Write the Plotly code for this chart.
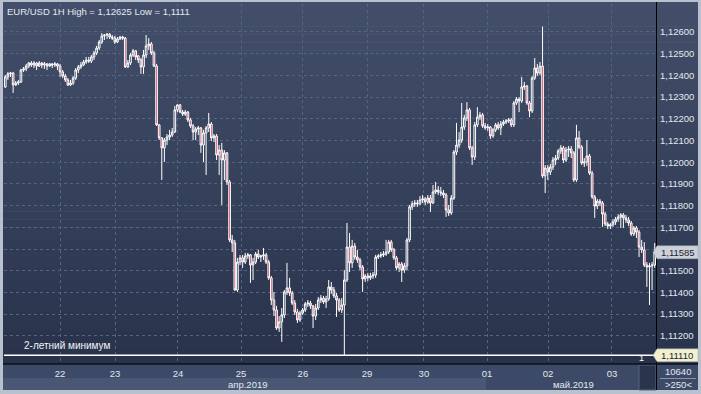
import plotly.graph_objects as go

# ---------------- data (EUR/USD, 1H candles) ----------------
title_text = "EUR/USD 1H High = 1,12625 Low = 1,1111"
day_labels = ["22", "23", "24", "25", "26", "29", "30", "01", "02", "03"]
day_ticks = [21.0, 42.1, 66.2, 90.4, 114.1, 138.7, 160.5, 184.7, 208.1, 232.6]
month_labels = ["апр.2019", "май.2019"]
month_pos = [92.7, 217.7]
price_ticks = [1.112, 1.113, 1.114, 1.115, 1.116, 1.117, 1.118, 1.119,
               1.120, 1.121, 1.122, 1.123, 1.124, 1.125, 1.126]
min_label = "2-летний минимум"
bars_count_text = "10640"
bars_visible_text = ">250<"

open_ = [
    1.12347, 1.12393, 1.12407, 1.12411, 1.12356, 1.12365, 1.12370, 1.12425, 1.12430, 1.12443,
    1.12457, 1.12448, 1.12457, 1.12443, 1.12457, 1.12448, 1.12453, 1.12443, 1.12453, 1.12448,
    1.12453, 1.12443, 1.12416, 1.12397, 1.12379, 1.12356, 1.12365, 1.12388, 1.12425, 1.12439,
    1.12448, 1.12462, 1.12471, 1.12466, 1.12485, 1.12503, 1.12526, 1.12554, 1.12582, 1.12586,
    1.12590, 1.12577, 1.12572, 1.12554, 1.12568, 1.12577, 1.12572, 1.12439, 1.12457, 1.12494,
    1.12513, 1.12490, 1.12471, 1.12439, 1.12494, 1.12536, 1.12545, 1.12503, 1.12443, 1.12172,
    1.12112, 1.12066, 1.12102, 1.12116, 1.12125, 1.12139, 1.12241, 1.12264, 1.12231, 1.12222,
    1.12231, 1.12195, 1.12167, 1.12139, 1.12153, 1.12158, 1.12079, 1.12135, 1.12158, 1.12176,
    1.12112, 1.12121, 1.12033, 1.12056, 1.12010, 1.12043, 1.11909, 1.11642, 1.11628, 1.11411,
    1.11540, 1.11559, 1.11540, 1.11568, 1.11573, 1.11526, 1.11540, 1.11577, 1.11563, 1.11568,
    1.11573, 1.11540, 1.11467, 1.11365, 1.11319, 1.11236, 1.11264, 1.11296, 1.11402, 1.11421,
    1.11397, 1.11351, 1.11310, 1.11273, 1.11305, 1.11319, 1.11347, 1.11351, 1.11338, 1.11291,
    1.11328, 1.11365, 1.11374, 1.11356, 1.11370, 1.11425, 1.11411, 1.11384, 1.11365, 1.11319,
    1.11342, 1.11457, 1.11609, 1.11536, 1.11614, 1.11563, 1.11550, 1.11517, 1.11462, 1.11476,
    1.11467, 1.11476, 1.11480, 1.11563, 1.11568, 1.11573, 1.11577, 1.11586, 1.11632, 1.11596,
    1.11559, 1.11513, 1.11531, 1.11503, 1.11522, 1.11642, 1.11794, 1.11808, 1.11812, 1.11808,
    1.11826, 1.11831, 1.11817, 1.11835, 1.11812, 1.11863, 1.11872, 1.11863, 1.11858, 1.11849,
    1.11780, 1.11766, 1.11835, 1.12047, 1.12079, 1.12102, 1.12162, 1.12204, 1.12241, 1.12066,
    1.12024, 1.12172, 1.12208, 1.12218, 1.12167, 1.12158, 1.12162, 1.12121, 1.12149, 1.12172,
    1.12158, 1.12176, 1.12185, 1.12190, 1.12195, 1.12172, 1.12273, 1.12291, 1.12282, 1.12347,
    1.12351, 1.12273, 1.12236, 1.12388, 1.12434, 1.12411, 1.12443, 1.11937, 1.11973, 1.11955,
    1.11978, 1.12010, 1.12019, 1.12052, 1.12066, 1.12010, 1.12056, 1.12061, 1.12043, 1.11918,
    1.12112, 1.12070, 1.11996, 1.12001, 1.12029, 1.11950, 1.11840, 1.11798, 1.11821, 1.11812,
    1.11761, 1.11715, 1.11706, 1.11711, 1.11725, 1.11738, 1.11748, 1.11757, 1.11743, 1.11734,
    1.11720, 1.11669, 1.11697, 1.11678, 1.11609, 1.11596, 1.11526, 1.11517, 1.11522, 1.11526,
]

high = [
    1.12402, 1.12416, 1.12416, 1.12416, 1.12374, 1.12379, 1.12430, 1.12439, 1.12453, 1.12462,
    1.12466, 1.12466, 1.12462, 1.12466, 1.12462, 1.12462, 1.12457, 1.12457, 1.12457, 1.12462,
    1.12457, 1.12453, 1.12425, 1.12407, 1.12388, 1.12379, 1.12397, 1.12434, 1.12448, 1.12462,
    1.12471, 1.12485, 1.12485, 1.12494, 1.12513, 1.12536, 1.12563, 1.12595, 1.12591, 1.12595,
    1.12595, 1.12586, 1.12582, 1.12577, 1.12582, 1.12582, 1.12577, 1.12471, 1.12503, 1.12522,
    1.12517, 1.12494, 1.12480, 1.12517, 1.12586, 1.12572, 1.12554, 1.12513, 1.12453, 1.12176,
    1.12116, 1.12112, 1.12130, 1.12149, 1.12158, 1.12259, 1.12268, 1.12268, 1.12241, 1.12241,
    1.12236, 1.12204, 1.12176, 1.12162, 1.12167, 1.12162, 1.12149, 1.12167, 1.12227, 1.12185,
    1.12130, 1.12130, 1.12079, 1.12089, 1.12056, 1.12047, 1.11918, 1.11665, 1.11642, 1.11559,
    1.11573, 1.11573, 1.11582, 1.11582, 1.11577, 1.11559, 1.11586, 1.11596, 1.11573, 1.11605,
    1.11582, 1.11550, 1.11476, 1.11402, 1.11338, 1.11291, 1.11328, 1.11411, 1.11536, 1.11467,
    1.11407, 1.11365, 1.11324, 1.11315, 1.11328, 1.11356, 1.11365, 1.11361, 1.11342, 1.11347,
    1.11379, 1.11388, 1.11384, 1.11384, 1.11457, 1.11448, 1.11425, 1.11397, 1.11374, 1.11374,
    1.11503, 1.11720, 1.11674, 1.11642, 1.11628, 1.11596, 1.11559, 1.11526, 1.11485, 1.11490,
    1.11490, 1.11494, 1.11573, 1.11577, 1.11586, 1.11591, 1.11642, 1.11642, 1.11642, 1.11605,
    1.11568, 1.11540, 1.11540, 1.11536, 1.11651, 1.11803, 1.11821, 1.11826, 1.11826, 1.11844,
    1.11849, 1.11840, 1.11849, 1.11849, 1.11895, 1.11909, 1.11890, 1.11886, 1.11872, 1.11858,
    1.11803, 1.11849, 1.12056, 1.12181, 1.12139, 1.12273, 1.12218, 1.12277, 1.12250, 1.12075,
    1.12185, 1.12254, 1.12231, 1.12227, 1.12181, 1.12176, 1.12167, 1.12158, 1.12181, 1.12185,
    1.12190, 1.12195, 1.12199, 1.12204, 1.12204, 1.12282, 1.12300, 1.12300, 1.12393, 1.12370,
    1.12356, 1.12282, 1.12397, 1.12480, 1.12453, 1.12462, 1.12625, 1.11987, 1.11987, 1.11992,
    1.12024, 1.12033, 1.12061, 1.12079, 1.12075, 1.12070, 1.12075, 1.12075, 1.12052, 1.12172,
    1.12144, 1.12079, 1.12019, 1.12102, 1.12038, 1.11960, 1.11849, 1.11831, 1.11831, 1.11821,
    1.11771, 1.11725, 1.11720, 1.11738, 1.11748, 1.11761, 1.11766, 1.11766, 1.11757, 1.11748,
    1.11729, 1.11706, 1.11706, 1.11688, 1.11642, 1.11632, 1.11540, 1.11536, 1.11540, 1.11628,
]

low = [
    1.12342, 1.12379, 1.12393, 1.12319, 1.12351, 1.12356, 1.12365, 1.12416, 1.12420, 1.12434,
    1.12439, 1.12434, 1.12425, 1.12439, 1.12434, 1.12430, 1.12425, 1.12439, 1.12434, 1.12439,
    1.12425, 1.12393, 1.12388, 1.12370, 1.12351, 1.12351, 1.12356, 1.12379, 1.12411, 1.12430,
    1.12443, 1.12453, 1.12457, 1.12457, 1.12471, 1.12494, 1.12517, 1.12545, 1.12563, 1.12568,
    1.12568, 1.12563, 1.12545, 1.12549, 1.12563, 1.12563, 1.12434, 1.12434, 1.12448, 1.12485,
    1.12471, 1.12457, 1.12407, 1.12407, 1.12480, 1.12517, 1.12494, 1.12439, 1.12167, 1.12102,
    1.11918, 1.12001, 1.12079, 1.12102, 1.12116, 1.12135, 1.12231, 1.12227, 1.12213, 1.12213,
    1.12185, 1.12158, 1.12102, 1.12102, 1.12125, 1.12043, 1.12001, 1.11941, 1.12139, 1.12098,
    1.12093, 1.12010, 1.11941, 1.11803, 1.11918, 1.11895, 1.11632, 1.11586, 1.11407, 1.11402,
    1.11526, 1.11513, 1.11531, 1.11554, 1.11444, 1.11457, 1.11531, 1.11554, 1.11540, 1.11550,
    1.11531, 1.11457, 1.11342, 1.11291, 1.11227, 1.11218, 1.11172, 1.11282, 1.11388, 1.11384,
    1.11342, 1.11296, 1.11259, 1.11264, 1.11296, 1.11310, 1.11333, 1.11324, 1.11236, 1.11273,
    1.11319, 1.11351, 1.11347, 1.11328, 1.11361, 1.11393, 1.11374, 1.11287, 1.11310, 1.11305,
    1.11110, 1.11448, 1.11494, 1.11513, 1.11550, 1.11536, 1.11503, 1.11402, 1.11448, 1.11453,
    1.11457, 1.11462, 1.11467, 1.11554, 1.11559, 1.11563, 1.11568, 1.11577, 1.11586, 1.11550,
    1.11503, 1.11494, 1.11448, 1.11490, 1.11503, 1.11632, 1.11780, 1.11794, 1.11794, 1.11803,
    1.11812, 1.11803, 1.11808, 1.11771, 1.11808, 1.11854, 1.11849, 1.11844, 1.11835, 1.11748,
    1.11752, 1.11757, 1.11826, 1.12033, 1.12066, 1.12089, 1.12149, 1.12190, 1.12056, 1.11987,
    1.12010, 1.12162, 1.12195, 1.12158, 1.12149, 1.12144, 1.12107, 1.12112, 1.12139, 1.12149,
    1.12125, 1.12167, 1.12176, 1.12181, 1.12162, 1.12162, 1.12264, 1.12231, 1.12273, 1.12333,
    1.12264, 1.12208, 1.12227, 1.12379, 1.12397, 1.12402, 1.11927, 1.11858, 1.11918, 1.11941,
    1.11964, 1.11987, 1.12010, 1.12038, 1.11996, 1.12001, 1.12024, 1.12019, 1.11909, 1.11909,
    1.12061, 1.11987, 1.11978, 1.11983, 1.11941, 1.11831, 1.11743, 1.11784, 1.11798, 1.11702,
    1.11706, 1.11692, 1.11692, 1.11702, 1.11711, 1.11725, 1.11697, 1.11697, 1.11720, 1.11706,
    1.11660, 1.11660, 1.11651, 1.11563, 1.11582, 1.11517, 1.11425, 1.11342, 1.11411, 1.11513,
]

close = [
    1.12393, 1.12407, 1.12411, 1.12356, 1.12365, 1.12370, 1.12425, 1.12430, 1.12443, 1.12457,
    1.12448, 1.12457, 1.12443, 1.12457, 1.12448, 1.12453, 1.12443, 1.12453, 1.12448, 1.12453,
    1.12443, 1.12416, 1.12397, 1.12379, 1.12356, 1.12365, 1.12388, 1.12425, 1.12439, 1.12448,
    1.12462, 1.12471, 1.12466, 1.12485, 1.12503, 1.12526, 1.12554, 1.12582, 1.12586, 1.12590,
    1.12577, 1.12572, 1.12554, 1.12568, 1.12577, 1.12572, 1.12439, 1.12457, 1.12494, 1.12513,
    1.12485, 1.12471, 1.12439, 1.12494, 1.12536, 1.12545, 1.12503, 1.12443, 1.12172, 1.12112,
    1.12066, 1.12102, 1.12116, 1.12125, 1.12139, 1.12241, 1.12264, 1.12231, 1.12222, 1.12231,
    1.12195, 1.12167, 1.12139, 1.12153, 1.12158, 1.12079, 1.12135, 1.12158, 1.12176, 1.12112,
    1.12121, 1.12033, 1.12056, 1.12010, 1.12043, 1.11909, 1.11642, 1.11628, 1.11411, 1.11540,
    1.11559, 1.11540, 1.11568, 1.11573, 1.11526, 1.11540, 1.11577, 1.11563, 1.11568, 1.11573,
    1.11540, 1.11467, 1.11365, 1.11319, 1.11236, 1.11264, 1.11296, 1.11402, 1.11421, 1.11397,
    1.11351, 1.11310, 1.11273, 1.11305, 1.11319, 1.11347, 1.11351, 1.11338, 1.11291, 1.11328,
    1.11365, 1.11374, 1.11356, 1.11370, 1.11425, 1.11411, 1.11384, 1.11365, 1.11319, 1.11342,
    1.11457, 1.11609, 1.11536, 1.11614, 1.11563, 1.11550, 1.11517, 1.11462, 1.11476, 1.11467,
    1.11476, 1.11480, 1.11563, 1.11568, 1.11573, 1.11577, 1.11586, 1.11632, 1.11596, 1.11559,
    1.11513, 1.11531, 1.11503, 1.11522, 1.11642, 1.11794, 1.11808, 1.11812, 1.11808, 1.11826,
    1.11831, 1.11817, 1.11835, 1.11812, 1.11863, 1.11872, 1.11863, 1.11858, 1.11849, 1.11780,
    1.11766, 1.11835, 1.12047, 1.12079, 1.12102, 1.12162, 1.12204, 1.12241, 1.12066, 1.12024,
    1.12172, 1.12208, 1.12218, 1.12167, 1.12158, 1.12162, 1.12121, 1.12149, 1.12172, 1.12158,
    1.12176, 1.12185, 1.12190, 1.12195, 1.12172, 1.12273, 1.12291, 1.12282, 1.12347, 1.12351,
    1.12273, 1.12236, 1.12388, 1.12434, 1.12411, 1.12443, 1.11937, 1.11973, 1.11955, 1.11978,
    1.12010, 1.12019, 1.12052, 1.12066, 1.12010, 1.12056, 1.12061, 1.12043, 1.11918, 1.12112,
    1.12070, 1.11996, 1.12001, 1.12029, 1.11950, 1.11840, 1.11798, 1.11821, 1.11812, 1.11761,
    1.11715, 1.11706, 1.11711, 1.11725, 1.11738, 1.11748, 1.11757, 1.11743, 1.11734, 1.11720,
    1.11669, 1.11697, 1.11678, 1.11609, 1.11596, 1.11526, 1.11517, 1.11522, 1.11526, 1.11585,
]

# ---------------- layout geometry ----------------
W, H = 701, 394
ML, MR, MT, MB = 4, 45, 4, 31
PW = W - ML - MR
PH = H - MT - MB


def pxx(px):
    return (px - ML) / PW


def pxy(py):
    return (H - MB - py) / PH


def fmt(p):
    return ("%.5f" % p).replace(".", ",")


FONT = "Liberation Sans, Arial, sans-serif"
TXT = "#e4e8ef"

n = len(close)
xs = list(range(n))
last_price = close[-1]
min_price = min(low)

fig = go.Figure()
fig.add_trace(go.Candlestick(
    x=xs, open=open_, high=high, low=low, close=close,
    increasing=dict(line=dict(color="#ffffff", width=1), fillcolor="#35425d"),
    decreasing=dict(line=dict(color="#ffffff", width=1), fillcolor="#c8304f"),
    whiskerwidth=0, hoverinfo="skip", showlegend=False,
))

shapes = []
# gradient background (plot + right scale)
top_c = (67, 79, 106)
bot_c = (40, 50, 75)
nb = 45
y_top, y_bot = 2, 364
for k in range(nb):
    t = (k + 0.5) / nb
    c = tuple(round(top_c[j] + (bot_c[j] - top_c[j]) * t) for j in range(3))
    ya = y_top + (y_bot - y_top) * k / nb
    yb = y_top + (y_bot - y_top) * (k + 1) / nb + 0.6
    shapes.append(dict(type="rect", xref="paper", yref="paper", layer="below",
                       x0=pxx(3), x1=pxx(698), y0=pxy(yb), y1=pxy(ya),
                       fillcolor="rgb(%d,%d,%d)" % c, line=dict(width=0)))
# bottom time-scale area
shapes.append(dict(type="rect", xref="paper", yref="paper", layer="below",
                   x0=pxx(3), x1=pxx(698), y0=pxy(390), y1=pxy(364),
                   fillcolor="#3d4a67", line=dict(width=0)))
shapes.append(dict(type="rect", xref="paper", yref="paper", layer="below",
                   x0=pxx(3), x1=pxx(486), y0=pxy(390), y1=pxy(378),
                   fillcolor="#4a5774", line=dict(width=0)))
shapes.append(dict(type="rect", xref="paper", yref="paper", layer="below",
                   x0=pxx(639), x1=pxx(656), y0=pxy(390), y1=pxy(365),
                   fillcolor="#2a344c", line=dict(color="#56627c", width=1)))
# separators
shapes.append(dict(type="line", xref="paper", yref="paper", layer="above",
                   x0=pxx(656.5), x1=pxx(656.5), y0=pxy(390), y1=pxy(2),
                   line=dict(color="#000000", width=1)))
shapes.append(dict(type="line", xref="paper", yref="paper", layer="above",
                   x0=pxx(3), x1=pxx(698), y0=pxy(364), y1=pxy(364),
                   line=dict(color="#0d1118", width=1.5)))
shapes.append(dict(type="line", xref="paper", yref="paper", layer="above",
                   x0=pxx(660), x1=pxx(696), y0=pxy(378.5), y1=pxy(378.5),
                   line=dict(color="#8a94a8", width=1)))

# 2-year minimum line
shapes.append(dict(type="line", xref="paper", yref="y", layer="above",
                   x0=0, x1=1, y0=min_price, y1=min_price,
                   line=dict(color="#ffffff", width=1.5)))


# price tags on the right scale
def tag(price, fill):
    shapes.append(dict(type="path", xref="paper", yref="y", layer="above",
                       xsizemode="pixel", ysizemode="pixel",
                       xanchor=1, yanchor=price,
                       path="M -3,0 L 1,6.5 L 42,6.5 L 42,-6.5 L 1,-6.5 Z",
                       fillcolor=fill, line=dict(color="#9aa2b2", width=0.5)))


tag(last_price, "#cdd1da")
tag(min_price, "#f1f0cf")

# tick labels hidden where a price tag covers them (as in the terminal)
price_ticktext = [fmt(v) if abs(v - last_price) > 0.0003 else "" for v in price_ticks]

annotations = [
    dict(text=title_text, xref="paper", yref="paper", x=pxx(5), y=pxy(3.5),
         xanchor="left", yanchor="top", showarrow=False,
         font=dict(family=FONT, size=9.5, color=TXT)),
    dict(text=min_label, xref="paper", yref="paper", x=pxx(22), y=pxy(345),
         xanchor="left", yanchor="middle", showarrow=False,
         font=dict(family=FONT, size=10, color="#f2f4f7")),
    dict(text="1", xref="paper", yref="paper", x=pxx(641), y=pxy(358),
         xanchor="center", yanchor="middle", showarrow=False,
         font=dict(family=FONT, size=9, color="#ffffff")),
    dict(text=fmt(last_price), xref="paper", yref="y", x=1, y=last_price,
         xanchor="left", yanchor="middle", xshift=3, showarrow=False,
         font=dict(family=FONT, size=9.5, color="#1d2333")),
    dict(text=fmt(min_price), xref="paper", yref="y", x=1, y=min_price,
         xanchor="left", yanchor="middle", xshift=3, showarrow=False,
         font=dict(family=FONT, size=9.5, color="#1d2333")),
    dict(text=bars_count_text, xref="paper", yref="paper", x=pxx(678), y=pxy(371.5),
         xanchor="center", yanchor="middle", showarrow=False,
         font=dict(family=FONT, size=9.5, color=TXT)),
    dict(text=bars_visible_text, xref="paper", yref="paper", x=pxx(678), y=pxy(384.5),
         xanchor="center", yanchor="middle", showarrow=False,
         font=dict(family=FONT, size=9.5, color=TXT)),
]
for lab, pos in zip(month_labels, month_pos):
    annotations.append(dict(text=lab, xref="x", yref="paper", x=pos, y=pxy(384),
                            xanchor="center", yanchor="middle", showarrow=False,
                            font=dict(family=FONT, size=9.5, color=TXT)))

fig.update_layout(
    width=W, height=H, autosize=False,
    margin=dict(l=ML, r=MR, t=MT, b=MB, pad=0),
    paper_bgcolor="#b9c1cf", plot_bgcolor="rgba(0,0,0,0)",
    separators=", ",
    shapes=shapes, annotations=annotations,
    showlegend=False, hovermode=False,
    font=dict(family=FONT, size=9.5, color=TXT),
    boxgap=0.1,
)
fig.update_xaxes(
    range=[-0.5, n - 0.5], rangeslider=dict(visible=False),
    tickmode="array", tickvals=day_ticks, ticktext=day_labels,
    showgrid=True, gridcolor="#56657f", griddash="3px,3px", gridwidth=1,
    zeroline=False, showline=False, ticks="",
    ticklabelstandoff=3,
    tickfont=dict(family=FONT, size=9.5, color=TXT),
    fixedrange=True,
)
fig.update_yaxes(
    range=[1.110747, 1.12729], side="right",
    tickmode="array", tickvals=price_ticks, ticktext=price_ticktext,
    showgrid=True, gridcolor="#56657f", griddash="3px,3px", gridwidth=1,
    zeroline=False, showline=False, ticks="",
    ticklabelstandoff=3,
    tickfont=dict(family=FONT, size=9.5, color=TXT),
    fixedrange=True,
)

fig.write_html(
    "out.html",
    config=dict(displayModeBar=False),
    post_script="document.body.style.margin='0';document.body.style.padding='0';document.body.style.overflow='hidden';",
)
